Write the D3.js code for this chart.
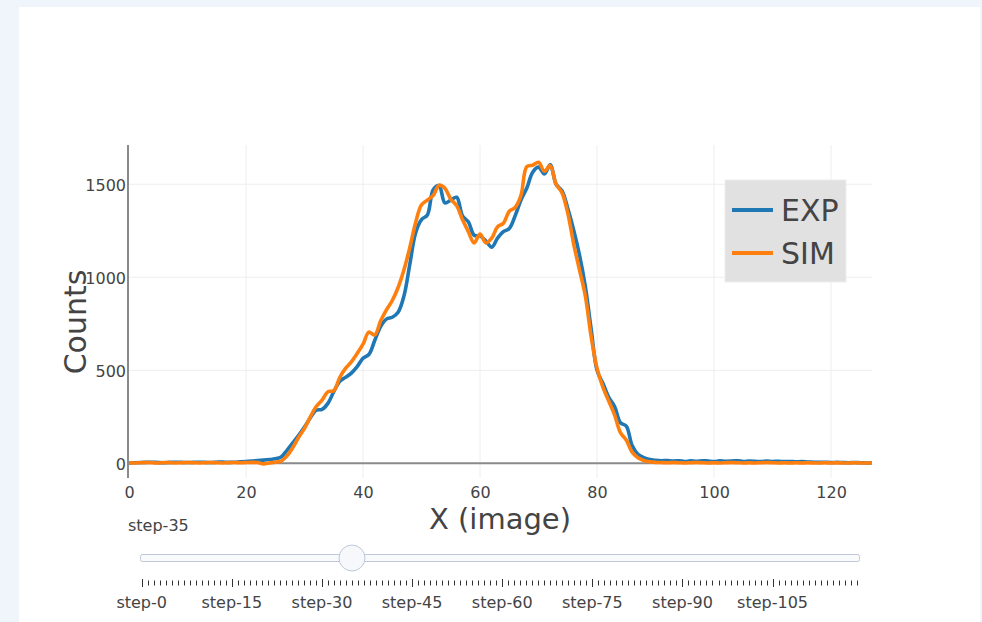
<!DOCTYPE html>
<html>
<head>
<meta charset="utf-8">
<script src="https://cdn.jsdelivr.net/npm/d3@7"></script>
<style>
  html, body { margin: 0; padding: 0; background: #f0f4fb; }
  svg { display: block; font-family: "DejaVu Sans", Verdana, sans-serif; }
</style>
</head>
<body>
<svg id="chart" width="982" height="622"></svg>
<script>
// Pixel positions along the image row
const xValues = d3.range(128);

// Measured profile (EXP)
const expCounts = [
  2, 3, 4, 5, 6, 4, 3, 5, 6, 5,
  4, 5, 6, 5, 4, 6, 7, 5, 6, 8,
  10, 12, 15, 17, 20, 24, 34, 70, 110, 150,
  195, 245, 285, 290, 322, 385, 440, 462, 485, 520,
  565, 585, 660, 735, 775, 785, 812, 900, 1070, 1240,
  1310, 1335, 1470, 1492, 1400, 1415, 1430, 1330, 1298, 1226,
  1222, 1195, 1162, 1210, 1245, 1262, 1330, 1415, 1480, 1565,
  1592, 1555, 1605, 1500, 1465, 1370, 1255, 1120, 950, 720,
  500, 430, 355, 305, 218, 200, 95, 48, 30, 20,
  16, 14, 15, 12, 14, 10, 13, 11, 14, 12,
  10, 13, 11, 12, 14, 10, 12, 11, 9, 12,
  10, 11, 9, 10, 8, 9, 7, 6, 5, 6,
  4, 5, 4, 3, 4, 3, 2, 3
];

// Simulated profile (SIM)
const simCounts = [
  3, 2, 3, 4, 3, 2, 4, 3, 2, 3,
  4, 3, 2, 3, 4, 3, 2, 3, 4, 3,
  4, 5, 4, -3, 2, 6, 12, 40, 85, 140,
  188, 250, 305, 340, 385, 390, 460, 510, 545, 590,
  640, 705, 690, 765, 825, 875, 945, 1040, 1160, 1295,
  1390, 1415, 1440, 1495, 1478, 1420, 1385, 1310, 1245, 1185,
  1232, 1185, 1210, 1272, 1290, 1355, 1375, 1440, 1595, 1602,
  1618, 1570, 1600, 1500, 1455, 1345, 1180, 1040, 900, 680,
  510, 410, 335, 260, 165, 125, 60, 30, 15, 8,
  5, 4, 3, 4, 3, 2, 3, 4, 3, 2,
  3, 2, 3, 4, 3, 2, 3, 2, 3, 4,
  3, 2, 3, 2, 3, 2, 3, 2, 2, 3,
  2, 3, 2, 2, 3, 2, 2, 2
];

const seriesNames = ["EXP", "SIM"];
const seriesColors = ["#1f77b4", "#ff7f0e"];

const xTicks = [0, 20, 40, 60, 80, 100, 120];
const yTicks = [0, 500, 1000, 1500];

// Slider steps
const stepLabels = d3.range(120).map(i => "step-" + i);
const labelledSteps = [0, 15, 30, 45, 60, 75, 90, 105];
const activeStep = 35;

const svg = d3.select("#chart");

// white paper panel
svg.append("rect").attr("x", 19).attr("y", 7).attr("width", 961).attr("height", 615).attr("fill", "#ffffff");

const plot = { left: 129, right: 872, top: 145, bottom: 478 };
const x = d3.scaleLinear().domain([0, 127]).range([plot.left, plot.right]);
const y = d3.scaleLinear().domain([-79, 1711]).range([plot.bottom, plot.top]);

// grid
const grid = svg.append("g");
grid.selectAll("line.vg").data(xTicks.filter(d => d > 0)).join("line")
  .attr("x1", d => x(d)).attr("x2", d => x(d))
  .attr("y1", plot.top).attr("y2", plot.bottom)
  .attr("stroke", "#eeeeee").attr("stroke-width", 1);
grid.selectAll("line.hg").data(yTicks.filter(d => d > 0)).join("line")
  .attr("x1", plot.left).attr("x2", plot.right)
  .attr("y1", d => y(d)).attr("y2", d => y(d))
  .attr("stroke", "#eeeeee").attr("stroke-width", 1);

// zero line
svg.append("line")
  .attr("x1", plot.left).attr("x2", plot.right)
  .attr("y1", y(0)).attr("y2", y(0))
  .attr("stroke", "#8a8a8a").attr("stroke-width", 2);

// axes (labels only)
const xAxis = d3.axisBottom(x).tickValues(xTicks).tickSize(0).tickPadding(0).tickFormat(d3.format("d"));
const gx = svg.append("g").attr("transform", `translate(0,498)`).call(xAxis);
gx.select(".domain").remove();
gx.selectAll("text").attr("font-size", 16).attr("fill", "#444").attr("dy", 0)
  .style("font-family", "'DejaVu Sans', Verdana, sans-serif");

const yAxis = d3.axisLeft(y).tickValues(yTicks).tickSize(0).tickPadding(0).tickFormat(d3.format("d"));
const gy = svg.append("g").attr("transform", `translate(126,0)`).call(yAxis);
gy.select(".domain").remove();
gy.selectAll("text").attr("font-size", 16).attr("fill", "#444").attr("dy", "0.36em")
  .style("font-family", "'DejaVu Sans', Verdana, sans-serif");

// y axis line
svg.append("line")
  .attr("x1", plot.left - 1).attr("x2", plot.left - 1)
  .attr("y1", plot.top).attr("y2", plot.bottom)
  .attr("stroke", "#8a8a8a").attr("stroke-width", 2);

// series
svg.append("clipPath").attr("id", "plotclip").append("rect")
  .attr("x", plot.left).attr("y", plot.top)
  .attr("width", plot.right - plot.left).attr("height", plot.bottom - plot.top);

const line = d3.line().x(d => x(d[0])).y(d => y(d[1])).curve(d3.curveCatmullRom.alpha(0.5));
const seriesData = [expCounts, simCounts];
svg.append("g").attr("clip-path", "url(#plotclip)")
  .selectAll("path").data(seriesData).join("path")
  .attr("d", vals => line(xValues.map((xv, i) => [xv, vals[i]])))
  .attr("fill", "none")
  .attr("stroke", (d, i) => seriesColors[i])
  .attr("stroke-width", 3.6)
  .attr("stroke-linejoin", "round");

// axis titles
svg.append("text").attr("x", 500).attr("y", 529).attr("text-anchor", "middle")
  .attr("font-size", 29).attr("fill", "#444").text("X (image)");
svg.append("text").attr("transform", "translate(86,322) rotate(-90)").attr("text-anchor", "middle")
  .attr("font-size", 30).attr("fill", "#444").text("Counts");

// legend
const lg = svg.append("g").attr("transform", "translate(725,180)");
lg.append("rect").attr("width", 121).attr("height", 102).attr("fill", "#e1e1e1").attr("stroke", "#eeeeee");
seriesNames.forEach((name, i) => {
  const cy = 30 + i * 43;
  lg.append("line").attr("x1", 7).attr("x2", 48).attr("y1", cy).attr("y2", cy)
    .attr("stroke", seriesColors[i]).attr("stroke-width", 4);
  lg.append("text").attr("x", 56).attr("y", cy + 11).attr("font-size", 30).attr("fill", "#444").text(name);
});

// slider
const s = d3.scaleLinear().domain([0, stepLabels.length - 1]).range([141.7, 856.7]);
const slider = svg.append("g");
slider.append("text").attr("x", 128).attr("y", 531).attr("font-size", 16).attr("fill", "#444")
  .text(stepLabels[activeStep]);
slider.append("rect").attr("x", 140.5).attr("y", 554.5).attr("width", 719).attr("height", 7)
  .attr("rx", 2).attr("fill", "#f8fafc").attr("stroke", "#bec8d9").attr("stroke-width", 1);
slider.selectAll("line.tick").data(d3.range(stepLabels.length)).join("line")
  .attr("x1", d => Math.round(s(d)) + 0.5).attr("x2", d => Math.round(s(d)) + 0.5)
  .attr("y1", d => labelledSteps.includes(d) ? 579 : 580.5)
  .attr("y2", d => labelledSteps.includes(d) ? 587 : 585.5)
  .attr("stroke", "#333").attr("stroke-width", 1);
slider.selectAll("text.step").data(labelledSteps).join("text")
  .attr("x", d => s(d)).attr("y", 608).attr("text-anchor", "middle")
  .attr("font-size", 16).attr("fill", "#444").text(d => stepLabels[d]);
slider.append("circle").attr("cx", s(activeStep)).attr("cy", 558).attr("r", 13)
  .attr("fill", "#f6f8fc").attr("stroke", "#bec8d9").attr("stroke-width", 1);
</script>
</body>
</html>
